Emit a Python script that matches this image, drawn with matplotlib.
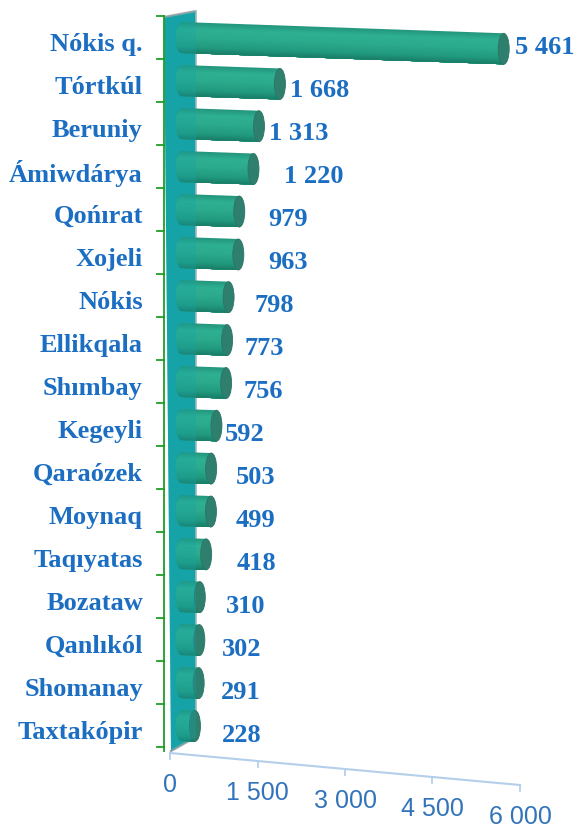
import numpy as np
import matplotlib
matplotlib.use("Agg")
import matplotlib.pyplot as plt
from matplotlib.patches import Polygon, Ellipse
from matplotlib.colors import LinearSegmentedColormap

# ---- data -------------------------------------------------------------
districts = ["Nókis q.", "Tórtkúl", "Beruniy", "Ámiwdárya", "Qońırat", "Xojeli",
             "Nókis", "Ellikqala", "Shımbay", "Kegeyli", "Qaraózek", "Moynaq",
             "Taqıyatas", "Bozataw", "Qanlıkól", "Shomanay", "Taxtakópir"]
values = [5461, 1668, 1313, 1220, 979, 963, 798, 773, 756, 592, 503, 499,
          418, 310, 302, 291, 228]
x_ticks = [0, 1500, 3000, 4500, 6000]
x_tick_labels = ["0", "1 500", "3 000", "4 500", "6 000"]

# gap (pixels) between a cylinder's end and its value label
label_gap_px = [6, 5, 5, 25, 23, 24, 20, 12, 12, 3, 19, 19, 25, 21, 17, 17, 21]

# ---- layout -----------------------------------------------------------
W, H, DPI = 574, 828, 100
PX_PER_UNIT = 0.059      # horizontal pixels per unit of value
ORIGIN_PX = 181.5        # pixel column of value 0 for the cylinders
ROW0_PX = 38.5           # pixel row of first category centre
ROW_PX = 43.0            # pixels between categories
BAR_SLOPE = 0.035        # perspective droop of the cylinders (dy/dx in px)
BAR_H = 31 / ROW_PX      # cylinder thickness in rows
CAP_RX = 5.5 / PX_PER_UNIT  # half-width of the elliptical ends, in value units

BLUE = "#1B6EC2"
TICK_BLUE = "#3274BA"
WALL = "#16A3A8"
GREEN_AXIS = "#1E9E22"
AXIS_LINE = "#B4CFEA"

n = len(values)
skew = BAR_SLOPE * PX_PER_UNIT / ROW_PX   # rows per unit of value


def X(px):
    return (px - ORIGIN_PX) / PX_PER_UNIT


def Y(py):
    return (py - ROW0_PX) / ROW_PX


fig = plt.figure(figsize=(W / DPI, H / DPI), dpi=DPI)
ax = fig.add_axes([0, 0, 1, 1])
ax.set_xlim(X(0), X(W))
ax.set_ylim(Y(H), Y(0))
ax.axis("off")

# ---- back wall ----------------------------------------------------------
wall_xy = [(X(164), Y(18)), (X(196), Y(12)), (X(196), Y(738)), (X(171), Y(752))]
ax.add_patch(Polygon(wall_xy, closed=True, facecolor=WALL, edgecolor="none", zorder=1))
ax.plot([X(164), X(196)], [Y(18), Y(12)], color="#A3A9AA", lw=1.6, zorder=1.2,
        solid_capstyle="butt")
ax.plot([X(196), X(196)], [Y(12), Y(738)], color="#B9C0C0", lw=1.4, zorder=1.2)
ax.plot([X(171), X(196)], [Y(752), Y(738)], color="#9AA3A3", lw=1.6, zorder=1.2)

# category axis with boundary ticks
ax.plot([X(164), X(164)], [Y(17), Y(752)], color=GREEN_AXIS, lw=1.3, zorder=5)
for k in range(n + 1):
    yb = k - 0.5
    ax.plot([X(157), X(164)], [yb, yb], color=GREEN_AXIS, lw=1.3, zorder=5)

# ---- cylinders ----------------------------------------------------------
body_cmap = LinearSegmentedColormap.from_list(
    "body", [(0.0, "#23957C"), (0.22, "#2EB093"), (0.5, "#2BAA8C"),
             (0.8, "#219A7F"), (1.0, "#197C66")])
N_STRIPS = 28


def cylinder(row, v):
    h2 = BAR_H / 2
    y0 = row
    y1 = row + skew * v
    ts = np.linspace(-h2, h2, N_STRIPS + 1)
    for j in range(N_STRIPS):
        t0 = ts[j]
        tt = np.linspace(t0, h2, 40)
        arc_x = -CAP_RX * np.sqrt(np.clip(1 - (tt / h2) ** 2, 0, 1))
        pts = list(zip(arc_x, y0 + tt))
        pts += [(v, y1 + h2), (v, y1 + t0)]
        ax.add_patch(Polygon(pts, closed=True,
                             facecolor=body_cmap((j + 0.5) / N_STRIPS),
                             edgecolor="none", zorder=3))
    # end cap
    ax.add_patch(Ellipse((v, y1), 2 * CAP_RX, BAR_H, facecolor="#2F7F6F",
                         edgecolor="#2A7565", lw=0.6, zorder=3.5))


for i, v in enumerate(values):
    cylinder(i, v)

# translucent wall tint over the cylinder roots
ax.add_patch(Polygon(wall_xy, closed=True, facecolor=WALL, alpha=0.32,
                     edgecolor="none", zorder=4))

# ---- labels -------------------------------------------------------------
serif = ["Liberation Serif", "DejaVu Serif"]
for i, name in enumerate(districts):
    ax.text(X(143), i + 0.13, name, ha="right", va="center", fontsize=19,
            fontweight="bold", family=serif, color=BLUE, zorder=6)

for i, v in enumerate(values):
    txt = f"{v:,}".replace(",", " ")
    ax.annotate(txt, xy=(v + CAP_RX, i + 0.2), xytext=(label_gap_px[i] * 0.72, 0),
                textcoords="offset points", ha="left", va="center", fontsize=19,
                fontweight="bold", family=serif, color=BLUE, zorder=6)

# ---- value axis along the floor ------------------------------------------
AX_OFF = X(170)
AX_SCALE = (350 / 6000) / PX_PER_UNIT
AX_ROW0 = Y(754)
AX_SKEW = (32 / ROW_PX) / 6000


def floor_pt(v):
    return AX_OFF + AX_SCALE * v, AX_ROW0 + AX_SKEW * v


p0, p1 = floor_pt(x_ticks[0]), floor_pt(x_ticks[-1])
ax.plot([p0[0], p1[0]], [p0[1], p1[1]], color=AXIS_LINE, lw=1.5, zorder=2)
for t, lab in zip(x_ticks, x_tick_labels):
    fx, fy = floor_pt(t)
    ax.plot([fx, fx], [fy, fy + 6 / ROW_PX], color=AXIS_LINE, lw=1.3, zorder=2)
    ax.annotate(lab, xy=(fx, fy), xytext=(0, -31 * 0.72), textcoords="offset points",
                ha="center", va="center", fontsize=18,
                family=["Liberation Sans", "DejaVu Sans"], color=TICK_BLUE)

fig.savefig("out.png", dpi=DPI)
